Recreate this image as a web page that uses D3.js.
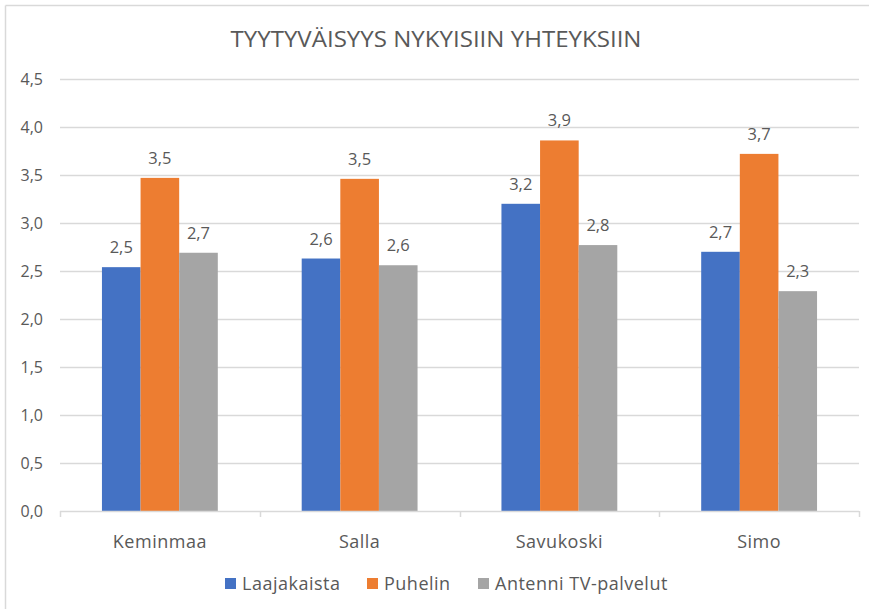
<!DOCTYPE html>
<html>
<head>
<meta charset="utf-8">
<script src="https://cdn.jsdelivr.net/npm/d3@7"></script>
<style>
  body { margin: 0; background: #fff; }
  text { font-family: "Open Sans", "Noto Sans", sans-serif; fill: #595959; }
</style>
</head>
<body>
<svg id="chart" width="869" height="609"></svg>
<script>
// data
var categories = ["Keminmaa", "Salla", "Savukoski", "Simo"];
var seriesNames = ["Laajakaista", "Puhelin", "Antenni TV-palvelut"];
var laajakaista = [2.54, 2.63, 3.2, 2.7];
var puhelin = [3.47, 3.46, 3.86, 3.72];
var antenniTv = [2.69, 2.56, 2.77, 2.29];
var colors = ["#4472C4", "#ED7D31", "#A5A5A5"];
var yTicks = [0, 0.5, 1, 1.5, 2, 2.5, 3, 3.5, 4, 4.5];
var title = "TYYTYVÄISYYS NYKYISIIN YHTEYKSIIN";

(function() {
    var values = [laajakaista, puhelin, antenniTv];
    var fmt = function(v) { return d3.format(".1f")(v).replace(".", ","); };

    var svg = d3.select("#chart");

    // outer frame (top + left edge visible in the screenshot)
    svg.append("line").attr("x1", 5.5).attr("x2", 869).attr("y1", 5.5).attr("y2", 5.5)
       .attr("stroke", "#d9d9d9").attr("stroke-width", 1.5);
    svg.append("line").attr("x1", 5.5).attr("x2", 5.5).attr("y1", 5.5).attr("y2", 609)
       .attr("stroke", "#d9d9d9").attr("stroke-width", 1.5);

    var pLeft = 60, pRight = 859, pTop = 79, pBottom = 511;

    var y = d3.scaleLinear().domain([0, 4.5]).range([pBottom, pTop]);
    var x0 = d3.scaleBand().domain(categories).range([pLeft, pRight]).paddingInner(0.42).paddingOuter(0.21);
    var x1 = d3.scaleBand().domain(seriesNames).range([0, x0.bandwidth()]);

    // gridlines
    svg.append("g").selectAll("line").data(yTicks.filter(function(d) { return d > 0; }))
       .enter().append("line")
       .attr("x1", pLeft).attr("x2", pRight)
       .attr("y1", function(d) { return Math.round(y(d)) + 0.5; })
       .attr("y2", function(d) { return Math.round(y(d)) + 0.5; })
       .attr("stroke", "#d9d9d9").attr("stroke-width", 1.5);

    // y labels
    svg.append("g").selectAll("text").data(yTicks).enter().append("text")
       .attr("x", 43).attr("y", function(d) { return y(d) + 6; })
       .attr("text-anchor", "end").style("font-size", "16px")
       .text(fmt);

    // bars
    var rows = function(c, i) {
        return seriesNames.map(function(s, j) { return {s: s, j: j, v: values[j][i]}; });
    };
    var groups = svg.append("g").selectAll("g").data(categories).enter().append("g")
       .attr("transform", function(d) { return "translate(" + x0(d) + ",0)"; });

    groups.selectAll("rect").data(rows).enter().append("rect")
       .attr("x", function(d) { return x1(d.s); })
       .attr("width", x1.bandwidth())
       .attr("y", function(d) { return y(d.v); })
       .attr("height", function(d) { return pBottom - y(d.v); })
       .attr("fill", function(d) { return colors[d.j]; });

    groups.selectAll("text").data(rows).enter().append("text")
       .attr("x", function(d) { return x1(d.s) + x1.bandwidth() / 2; })
       .attr("y", function(d) { return y(d.v) - 14; })
       .attr("text-anchor", "middle").style("font-size", "16.5px")
       .text(function(d) { return fmt(d.v); });

    // x axis
    svg.append("line").attr("x1", pLeft).attr("x2", pRight).attr("y1", pBottom + 0.5).attr("y2", pBottom + 0.5)
       .attr("stroke", "#d9d9d9").attr("stroke-width", 1.5);
    var tickXs = [pLeft].concat(categories.map(function(c) {
        return x0(c) - x0.step() * x0.paddingInner() / 2 + x0.step();
    }));
    svg.append("g").selectAll("line").data(tickXs).enter().append("line")
       .attr("x1", function(d) { return Math.round(d) + 0.5; })
       .attr("x2", function(d) { return Math.round(d) + 0.5; })
       .attr("y1", pBottom).attr("y2", pBottom + 6)
       .attr("stroke", "#d9d9d9").attr("stroke-width", 1.5);

    svg.append("g").selectAll("text").data(categories).enter().append("text")
       .attr("x", function(d) { return x0(d) + x0.bandwidth() / 2; })
       .attr("y", 548)
       .attr("text-anchor", "middle").style("font-size", "18px").style("letter-spacing", "0.5px")
       .text(function(d) { return d; });

    // title
    svg.append("text").attr("x", 436).attr("y", 47)
       .attr("text-anchor", "middle").style("font-size", "21px")
       .attr("textLength", 411).attr("lengthAdjust", "spacingAndGlyphs")
       .text(title);

    // legend
    var legendX = [225, 367, 478];
    var legend = svg.append("g").selectAll("g").data(seriesNames).enter().append("g")
       .attr("transform", function(d, i) { return "translate(" + legendX[i] + ",0)"; });
    legend.append("rect").attr("x", 0).attr("y", 578).attr("width", 11).attr("height", 11)
       .attr("fill", function(d, i) { return colors[i]; });
    legend.append("text").attr("x", 17).attr("y", 590).style("font-size", "18px").style("letter-spacing", "0.5px")
       .text(function(d) { return d; });
})();
</script>
</body>
</html>
